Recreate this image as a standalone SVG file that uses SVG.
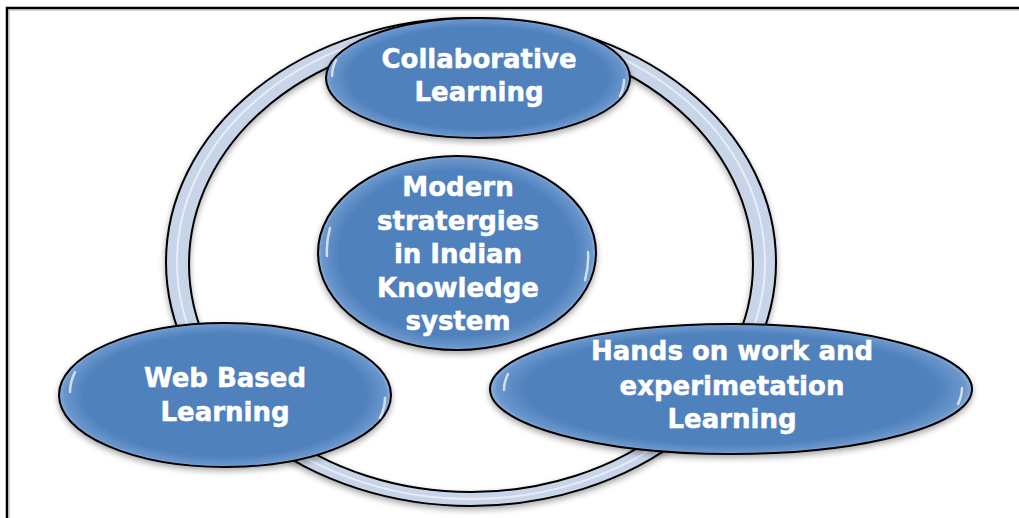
<svg xmlns="http://www.w3.org/2000/svg" width="1019" height="518" viewBox="0 0 1019 518">
<defs>
<filter id="sh" x="-10%" y="-10%" width="120%" height="130%">
<feGaussianBlur in="SourceAlpha" stdDeviation="3"/>
<feOffset dx="0" dy="3" result="b"/>
<feComponentTransfer><feFuncA type="linear" slope="0.35"/></feComponentTransfer>
<feMerge><feMergeNode/><feMergeNode in="SourceGraphic"/></feMerge>
</filter>
<radialGradient id="nodeFill" cx="50%" cy="50%" r="50%">
<stop offset="0.85" stop-color="#4f81bd"/>
<stop offset="0.97" stop-color="#6a96cc"/>
<stop offset="1" stop-color="#8fb1dc"/>
</radialGradient>
</defs>
<style>
.node{fill:url(#nodeFill);stroke:#000;stroke-width:2}
.lbl{font-family:"DejaVu Sans",sans-serif;font-weight:bold;font-size:26px;fill:#fff;text-anchor:middle;stroke:#fff;stroke-width:0.5}
.ring{fill:#c8d5e9;stroke:#000;stroke-width:2;fill-rule:evenodd}
.hl{fill:none;stroke:#ffffff;stroke-opacity:0.7;stroke-width:2.5;stroke-linecap:round}
</style>
<rect width="1019" height="518" fill="#fff"/>
<path d="M7,518 V8 H1019" fill="none" stroke="#000" stroke-width="2.5"/>
<path d="M9,518 V10 H1019" fill="none" stroke="#aaa" stroke-width="1"/>
<g id="connectors">
<path class="ring" filter="url(#sh)" d="M166,262 a305,244 0 1,0 610,0 a305,244 0 1,0 -610,0 Z M189,264 a282,228 0 1,0 564,0 a282,228 0 1,0 -564,0 Z"/>
<ellipse cx="471" cy="262" rx="294" ry="237" fill="none" stroke="#eef3fb" stroke-width="2" opacity="0.8"/>
</g>
<g id="node-collaborative">
<ellipse class="node" filter="url(#sh)" cx="478" cy="78" rx="152" ry="60"/>
<path class="hl" d="M336,60 q-4,8 -4,16"/>
<path class="hl" d="M620,96 q4,-8 4,-16"/>
<text class="lbl" x="479" y="68">Collaborative</text>
<text class="lbl" x="479" y="101">Learning</text>
</g>
<g id="node-center">
<ellipse class="node" filter="url(#sh)" cx="457" cy="253" rx="139" ry="97"/>
<path class="hl" d="M330,228 q-4,14 -3,28"/>
<path class="hl" d="M585,280 q4,-14 3,-28"/>
<text class="lbl" x="458" y="196">Modern</text>
<text class="lbl" x="458" y="230">stratergies</text>
<text class="lbl" x="458" y="263">in Indian</text>
<text class="lbl" x="458" y="297">Knowledge</text>
<text class="lbl" x="458" y="330">system</text>
</g>
<g id="node-web">
<ellipse class="node" filter="url(#sh)" cx="225" cy="395" rx="166" ry="72"/>
<path class="hl" d="M75,372 q-5,10 -5,20"/>
<path class="hl" d="M380,418 q5,-10 5,-20"/>
<text class="lbl" x="225" y="387">Web Based</text>
<text class="lbl" x="225" y="421">Learning</text>
</g>
<g id="node-hands">
<ellipse class="node" filter="url(#sh)" cx="731" cy="389" rx="241" ry="65"/>
<path class="hl" d="M508,374 q-4,8 -4,16"/>
<path class="hl" d="M958,404 q4,-8 4,-16"/>
<text class="lbl" x="732" y="360">Hands on work and</text>
<text class="lbl" x="732" y="395">experimetation</text>
<text class="lbl" x="732" y="428">Learning</text>
</g>
</svg>
